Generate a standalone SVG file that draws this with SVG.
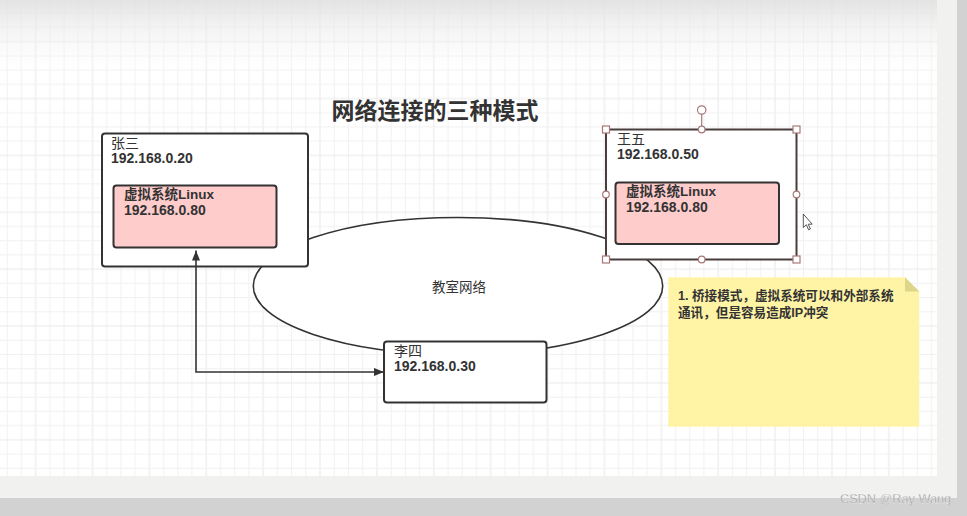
<svg xmlns="http://www.w3.org/2000/svg" width="967" height="516" viewBox="0 0 967 516">
<style>
  .box{fill:#ffffff;stroke:#333333;stroke-width:2}
  .vm{fill:#ffcccc;stroke:#333333;stroke-width:2}
  .t{font-family:"Liberation Sans","Noto Sans CJK SC",sans-serif;font-size:14px;fill:#333333}
  .b{font-weight:bold}
  .handle{fill:#ffffff;stroke:#a87878;stroke-width:1.2}
  .conn{fill:none;stroke:#333333;stroke-width:1.6}
</style>
<defs>
  <pattern id="grid" patternUnits="userSpaceOnUse" x="6.7" y="12.7" width="56.88" height="56.88">
    <rect x="0" y="0" width="1" height="56.88" fill="#f1f1f1"/>
    <rect x="14.22" y="0" width="1" height="56.88" fill="#f1f1f1"/>
    <rect x="28.44" y="0" width="1" height="56.88" fill="#e7e7e7"/>
    <rect x="42.66" y="0" width="1" height="56.88" fill="#f1f1f1"/>
    <rect x="0" y="0" width="56.88" height="1" fill="#f1f1f1"/>
    <rect x="0" y="14.22" width="56.88" height="1" fill="#f1f1f1"/>
    <rect x="0" y="28.44" width="56.88" height="1" fill="#eaeaea"/>
    <rect x="0" y="42.66" width="56.88" height="1" fill="#f1f1f1"/>
  </pattern>
  <linearGradient id="topfade" x1="0" y1="0" x2="0" y2="1">
    <stop offset="0" stop-color="#dedede" stop-opacity="0.85"/>
    <stop offset="1" stop-color="#ffffff" stop-opacity="0"/>
  </linearGradient>
  <marker id="arrow" viewBox="0 0 10 8" refX="10" refY="4" markerUnits="userSpaceOnUse" markerWidth="11" markerHeight="8" orient="auto-start-reverse">
    <path d="M0,0 L10,4 L0,8 z" fill="#333333"/>
  </marker>
</defs>

<!-- background -->
<rect x="0" y="0" width="967" height="516" fill="#d2d2d2"/>
<rect x="0" y="0" width="957" height="498" fill="#f1f1f0"/>
<rect x="0" y="0" width="937" height="476" fill="#ffffff"/>
<rect x="0" y="0" width="937" height="476" fill="url(#grid)"/>
<rect x="0" y="0" width="937" height="80" fill="url(#topfade)"/>

<!-- title -->
<g id="title">
  <text class="t b" x="435" y="118.5" text-anchor="middle" style="font-size:23px">网络连接的三种模式</text>
</g>

<!-- network ellipse -->
<g id="node-network">
  <ellipse cx="458" cy="286" rx="204.7" ry="68.5" fill="#ffffff" stroke="#333333" stroke-width="1.6"/>
  <text class="t" x="459" y="292" text-anchor="middle" style="font-size:13.5px">教室网络</text>
</g>

<!-- Zhang San -->
<g id="node-zhangsan">
  <rect class="box" x="102" y="133.5" width="206" height="133" rx="3"/>
  <text class="t" x="111" y="148">张三</text>
  <text class="t b" x="111" y="163">192.168.0.20</text>
</g>
<g id="node-zhangsan-vm">
  <rect class="vm" x="113.5" y="185.5" width="163" height="62" rx="3"/>
  <text class="t b" x="124" y="199" style="font-size:13.5px">虚拟系统Linux</text>
  <text class="t b" x="124" y="215">192.168.0.80</text>
</g>

<!-- Wang Wu (selected) -->
<g id="node-wangwu">
  <rect x="606" y="129.5" width="190.5" height="130" rx="1" fill="#ffffff" stroke="#4a3d3d" stroke-width="2"/>
  <text class="t" x="617" y="143.5">王五</text>
  <text class="t b" x="617" y="158.5">192.168.0.50</text>
</g>
<g id="node-wangwu-vm">
  <rect class="vm" x="615.5" y="182.5" width="163.5" height="61.5" rx="3"/>
  <text class="t b" x="626" y="196" style="font-size:13.5px">虚拟系统Linux</text>
  <text class="t b" x="626" y="212">192.168.0.80</text>
</g>
<g id="selection-handles">
  <line x1="701.7" y1="114" x2="701.7" y2="129.5" stroke="#a87878" stroke-width="1.2"/>
  <circle class="handle" cx="701.7" cy="110" r="4.2"/>
  <rect class="handle" x="602.5" y="126" width="7" height="7"/>
  <rect class="handle" x="793" y="126" width="7" height="7"/>
  <rect class="handle" x="602.5" y="256" width="7" height="7"/>
  <rect class="handle" x="793" y="256" width="7" height="7"/>
  <circle class="handle" cx="701.7" cy="129.5" r="3.3"/>
  <circle class="handle" cx="701.7" cy="259.5" r="3.3"/>
  <circle class="handle" cx="606" cy="194.5" r="3.3"/>
  <circle class="handle" cx="796.5" cy="194.5" r="3.3"/>
</g>
<g id="cursor">
  <path d="M803.3,214 L803.3,227.5 L806.3,224.7 L808.6,229.8 L810.4,229 L808.2,224.2 L812.2,224.2 Z" fill="#ffffff" stroke="#444444" stroke-width="0.9" stroke-linejoin="round"/>
</g>

<!-- Li Si -->
<g id="node-lisi">
  <rect class="box" x="384" y="341.5" width="162.5" height="61" rx="3"/>
  <text class="t" x="394" y="355.5">李四</text>
  <text class="t b" x="394" y="371">192.168.0.30</text>
</g>

<!-- Note -->
<g id="node-note">
  <path d="M668.3,277.3 L905,277.3 L919.3,291.6 L919.3,426.7 L668.3,426.7 Z" fill="#fff4a6"/>
  <path d="M905,277.3 L919.3,291.6 L905,291.6 Z" fill="#ddd58a"/>
  <text class="t b" x="678" y="300" style="font-size:12.6px">1. 桥接模式，虚拟系统可以和外部系统</text>
  <text class="t b" x="678" y="317" style="font-size:12.6px">通讯，但是容易造成IP冲突</text>
</g>

<!-- connectors -->
<g id="connectors">
  <path class="conn" d="M384,372 H196 V250.5" marker-start="url(#arrow)" marker-end="url(#arrow)"/>
</g>

<!-- watermark -->
<text x="840" y="503" style="font-family:'Liberation Sans',sans-serif;font-size:12.7px" fill="#8e8e8e" stroke="#ffffff" stroke-width="0.3">CSDN @Ray Wang</text>
</svg>
